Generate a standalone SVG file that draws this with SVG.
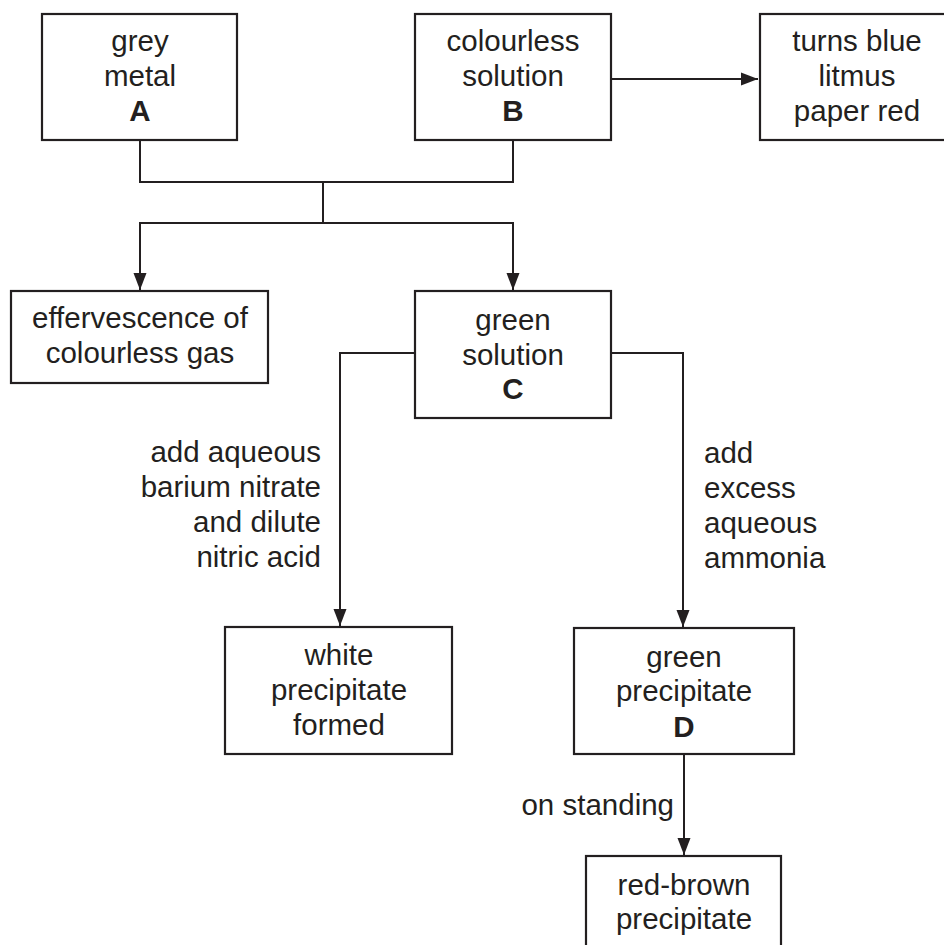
<svg xmlns="http://www.w3.org/2000/svg" width="944" height="945" viewBox="0 0 944 945">
<style>
.box{fill:#fff;stroke:#231f20;stroke-width:2.2}
.ln{fill:none;stroke:#231f20;stroke-width:2}
text{font-family:"Liberation Sans",Arial,sans-serif;font-size:29.5px;fill:#231f20}
.c{text-anchor:middle}
.r{text-anchor:end}
.b{font-weight:bold}
</style>
<defs>
<marker id="ah" markerUnits="userSpaceOnUse" markerWidth="17" markerHeight="14" refX="17" refY="7" orient="auto">
<path d="M0,0.5 L17,7 L0,13.5 z" fill="#231f20"/>
</marker>
</defs>
<rect width="944" height="945" fill="#fff"/>
<g id="connectors">
<path class="ln" d="M611,79 H758" marker-end="url(#ah)"/>
<path class="ln" d="M140,140 V182 H513 V140"/>
<path class="ln" d="M323,182 V223"/>
<path class="ln" d="M323,223 H140 V290" marker-end="url(#ah)"/>
<path class="ln" d="M323,223 H513 V290" marker-end="url(#ah)"/>
<path class="ln" d="M415,353 H340 V626" marker-end="url(#ah)"/>
<path class="ln" d="M611,353 H683 V627" marker-end="url(#ah)"/>
<path class="ln" d="M684,754 V855" marker-end="url(#ah)"/>
</g>
<g id="labels">
<text class="r" x="321" y="462">add aqueous</text>
<text class="r" x="321" y="497">barium nitrate</text>
<text class="r" x="321" y="532">and dilute</text>
<text class="r" x="321" y="567">nitric acid</text>
<text x="704" y="463">add</text>
<text x="704" y="498">excess</text>
<text x="704" y="533">aqueous</text>
<text x="704" y="568">ammonia</text>
<text class="r" x="674" y="815">on standing</text>
</g>
<g id="nodeA">
<rect class="box" x="42" y="14" width="195" height="126"/>
<text class="c" x="140" y="51">grey</text>
<text class="c" x="140" y="86">metal</text>
<text class="c b" x="140" y="121">A</text>
</g>
<g id="nodeB">
<rect class="box" x="415" y="14" width="196" height="126"/>
<text class="c" x="513" y="51">colourless</text>
<text class="c" x="513" y="86">solution</text>
<text class="c b" x="513" y="121">B</text>
</g>
<g id="nodeLitmus">
<rect class="box" x="760" y="14" width="196" height="126"/>
<text class="c" x="857" y="51">turns blue</text>
<text class="c" x="857" y="86">litmus</text>
<text class="c" x="857" y="121">paper red</text>
</g>
<g id="nodeGas">
<rect class="box" x="11" y="291" width="257" height="92"/>
<text class="c" x="140" y="328">effervescence of</text>
<text class="c" x="140" y="363">colourless gas</text>
</g>
<g id="nodeC">
<rect class="box" x="415" y="291" width="196" height="127"/>
<text class="c" x="513" y="330">green</text>
<text class="c" x="513" y="365">solution</text>
<text class="c b" x="513" y="399">C</text>
</g>
<g id="nodeWhite">
<rect class="box" x="225" y="627" width="227" height="127"/>
<text class="c" x="339" y="665">white</text>
<text class="c" x="339" y="700">precipitate</text>
<text class="c" x="339" y="735">formed</text>
</g>
<g id="nodeD">
<rect class="box" x="574" y="628" width="220" height="126"/>
<text class="c" x="684" y="667">green</text>
<text class="c" x="684" y="701">precipitate</text>
<text class="c b" x="684" y="737">D</text>
</g>
<g id="nodeRedBrown">
<rect class="box" x="586" y="856" width="195" height="110"/>
<text class="c" x="684" y="895">red-brown</text>
<text class="c" x="684" y="929">precipitate</text>
</g>
</svg>
